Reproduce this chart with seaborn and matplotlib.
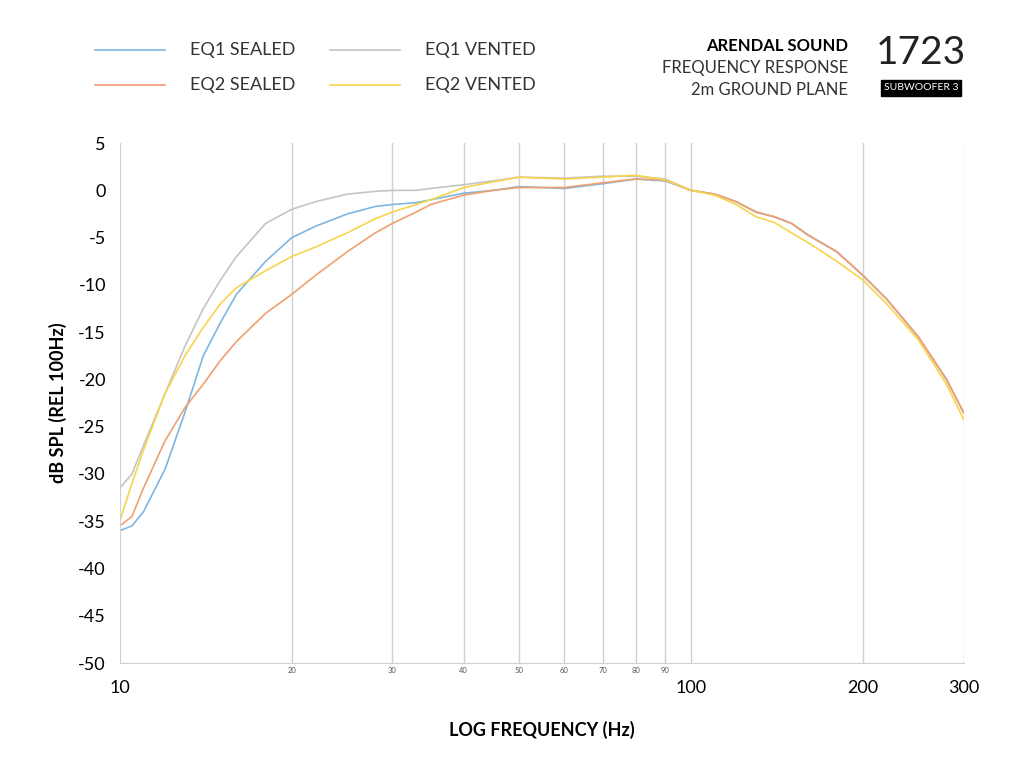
import numpy as np
import pandas as pd
import matplotlib
matplotlib.use("Agg")
import matplotlib.pyplot as plt
import seaborn as sns

plt.rcParams["font.family"] = "Lato"
plt.rcParams["axes.unicode_minus"] = False

freq_lo = [10, 10.5, 11, 12, 13, 14, 15, 16, 18, 20, 22, 25, 28, 30, 33, 35, 40, 45, 50, 60, 70, 80, 90, 100]
eq1_sealed_lo = [-36, -35.5, -34, -29.5, -23.5, -17.5, -14, -11, -7.5, -5, -3.8, -2.5, -1.7, -1.5, -1.3, -1.0, -0.3, 0, 0.4, 0.2, 0.7, 1.2, 1.0, 0]
eq1_vented_lo = [-31.5, -30, -27, -21.5, -16.5, -12.5, -9.5, -7, -3.5, -2, -1.2, -0.4, -0.1, 0, 0, 0.2, 0.6, 1.0, 1.4, 1.3, 1.5, 1.5, 1.2, 0]
eq2_sealed_lo = [-35.5, -34.5, -31.5, -26.5, -23, -20.5, -18, -16, -13, -11, -9, -6.5, -4.5, -3.5, -2.3, -1.5, -0.5, 0, 0.3, 0.3, 0.8, 1.2, 1.1, 0]
eq2_vented_lo = [-35, -31, -27.5, -21.5, -17.5, -14.5, -12, -10.3, -8.5, -7, -6, -4.5, -3, -2.3, -1.5, -1, 0.3, 0.9, 1.4, 1.2, 1.4, 1.6, 1.1, 0]

freq_hi = [110, 120, 130, 140, 150, 160, 180, 200, 220, 250, 280, 300]
common_hi = [-0.4, -1.2, -2.3, -2.8, -3.5, -4.7, -6.5, -9, -11.5, -15.5, -20, -23.5]
eq2_vented_hi = [-0.5, -1.5, -2.8, -3.4, -4.5, -5.5, -7.5, -9.5, -12, -15.8, -20.5, -24.2]

series = {
    "EQ1 SEALED": eq1_sealed_lo + common_hi,
    "EQ1 VENTED": eq1_vented_lo + common_hi,
    "EQ2 SEALED": eq2_sealed_lo + common_hi,
    "EQ2 VENTED": eq2_vented_lo + eq2_vented_hi,
}
colors = {"EQ1 SEALED": "#7fb6e0", "EQ1 VENTED": "#c4c4c4",
          "EQ2 SEALED": "#f0a070", "EQ2 VENTED": "#f7d44c"}

freqs = freq_lo + freq_hi
df = pd.concat([pd.DataFrame({"freq": freqs, "db": v, "series": k}) for k, v in series.items()])

fig = plt.figure(figsize=(10.24, 7.74), dpi=100)
ax = fig.add_axes([0.117, 0.1434, 0.824, 0.6717])

for x in [20, 30, 40, 50, 60, 70, 80, 90, 100, 200, 300]:
    ax.axvline(x, color="#d0d0d0", lw=1, zorder=0)

sns.lineplot(data=df, x="freq", y="db", hue="series", palette=colors, ax=ax,
             lw=1.2, legend=False, sort=True)

ax.set_xscale("log")
ax.set_xlim(10, 300)
ax.set_ylim(-50, 5)
ax.set_yticks(range(-50, 6, 5))
ax.tick_params(axis="y", length=0, labelsize=13, pad=10)
ax.set_xticks([])
ax.set_xticks([], minor=True)
for x in [10, 100, 200, 300]:
    ax.text(x, -52.6, str(x), ha="center", va="center", fontsize=13)
for x in [20, 30, 40, 50, 60, 70, 80, 90]:
    ax.text(x, -50.8, str(x), ha="center", va="center", fontsize=5.5, color="#555")
for s in ["top", "right"]:
    ax.spines[s].set_visible(False)
ax.spines["left"].set_color("#d0d0d0")
ax.spines["bottom"].set_color("#d0d0d0")
ax.set_xlabel("LOG FREQUENCY (Hz)", fontsize=13, fontweight="bold", labelpad=42)
ax.set_ylabel("dB SPL (REL 100Hz)", fontsize=13, fontweight="bold", labelpad=8)

# legend
leg = [("EQ1 SEALED", 95, 50), ("EQ1 VENTED", 330, 50), ("EQ2 SEALED", 95, 85), ("EQ2 VENTED", 330, 85)]
for name, px, py in leg:
    yf = 1 - py / 774
    fig.add_artist(plt.Line2D([px / 1024, (px + 70) / 1024], [yf, yf], color=colors[name], lw=1.2))
    fig.text((px + 95) / 1024, yf, name, fontsize=13, va="center", color="#333")

fig.text(848 / 1024, 1 - 46 / 774, "ARENDAL SOUND", ha="right", va="center", fontsize=12, fontweight="bold")
fig.text(848 / 1024, 1 - 68 / 774, "FREQUENCY RESPONSE", ha="right", va="center", fontsize=12, color="#333")
fig.text(848 / 1024, 1 - 90 / 774, "2m GROUND PLANE", ha="right", va="center", fontsize=12, color="#333")
fig.text(921 / 1024, 1 - 53 / 774, "1723", ha="center", va="center", fontsize=28, color="#222")
fig.text(921 / 1024, 1 - 88 / 774, "SUBWOOFER 3", ha="center", va="center", fontsize=7.5, color="white",
         bbox=dict(boxstyle="square,pad=0.3", fc="black", ec="black"))

fig.savefig("out.png", dpi=100)
